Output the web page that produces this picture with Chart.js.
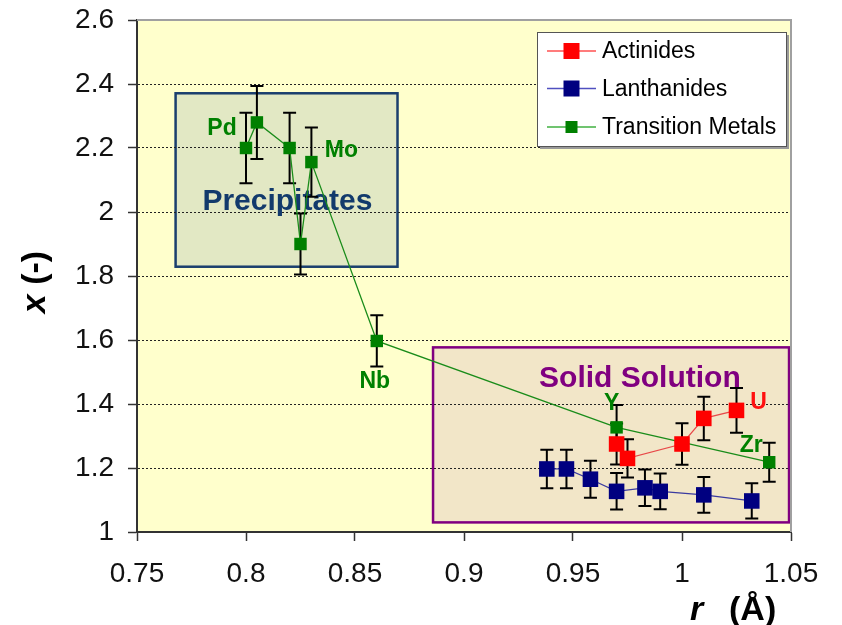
<!DOCTYPE html>
<html>
<head>
<meta charset="utf-8">
<title>x versus ionic radius</title>
<script src="https://cdn.jsdelivr.net/npm/chart.js@4.4.0/dist/chart.umd.min.js"></script>
<style>
  html, body { margin: 0; padding: 0; background: #fff; }
  #wrap { width: 842px; height: 625px; }
</style>
</head>
<body>
<div id="wrap"><canvas id="chart" width="842" height="625"></canvas></div>
<script>
// values: ionic radius r (Å) and x (-)
const actinideR = [0.97, 0.975, 1.00, 1.01, 1.025];
const actinideX = [1.275, 1.23, 1.275, 1.355, 1.38];
const actinideErr = [0.064, 0.06, 0.065, 0.068, 0.07];
const actinideNames = ['', '', '', '', 'U'];

const lanthanideR = [0.938, 0.947, 0.958, 0.97, 0.983, 0.99, 1.01, 1.032];
const lanthanideX = [1.197, 1.197, 1.165, 1.127, 1.138, 1.127, 1.116, 1.097];
const lanthanideErr = [0.06, 0.06, 0.058, 0.057, 0.057, 0.056, 0.056, 0.055];

const transitionR = [0.80, 0.805, 0.82, 0.825, 0.83, 0.86, 0.97, 1.04];
const transitionX = [2.20, 2.28, 2.20, 1.90, 2.156, 1.597, 1.327, 1.218];
const transitionErr = [0.11, 0.114, 0.11, 0.095, 0.108, 0.08, 0.07, 0.061];
const transitionNames = ['Pd', '', '', '', 'Mo', 'Nb', 'Y', 'Zr'];

const xTicks = [0.75, 0.8, 0.85, 0.9, 0.95, 1, 1.05];
const yTicks = [1, 1.2, 1.4, 1.6, 1.8, 2, 2.2, 2.4, 2.6];

const FONT = "'Liberation Sans', Arial, sans-serif";

const toPoints = (rs, xs) => rs.map((r, i) => ({x: r, y: xs[i]}));

// shaded regions, in data units
const regions = [
    {text: 'Precipitates', r0: 0.7677, r1: 0.8695, x0: 1.829, x1: 2.371,
     fill: '#e2e8c4', stroke: '#1b3f6e', color: '#123a6c', textR: 0.819, textX: 2.006},
    {text: 'Solid Solution', r0: 0.8858, r1: 1.0491, x0: 1.030, x1: 1.577,
     fill: '#f2e6c8', stroke: '#800080', color: '#800080', textR: 0.9807, textX: 1.454}
];

// pixel offsets of the element names from their points
const labelOffsets = {Pd: [-24, -19], Mo: [30, -11], Nb: [-2, 41], Y: [-5, -24], Zr: [-18, -17], U: [22, -8]};

const backdrop = {
    id: 'backdrop',
    beforeDraw(chart) {
        const {ctx, chartArea: a, scales: {x, y}} = chart;
        ctx.save();
        ctx.fillStyle = '#ffffcc';
        ctx.fillRect(a.left, a.top, a.right - a.left, a.bottom - a.top);
        regions.forEach(reg => {
            const l = x.getPixelForValue(reg.r0), r = x.getPixelForValue(reg.r1);
            const t = y.getPixelForValue(reg.x1), b = y.getPixelForValue(reg.x0);
            ctx.fillStyle = reg.fill;
            ctx.fillRect(l, t, r - l, b - t);
            ctx.lineWidth = 2.5;
            ctx.strokeStyle = reg.stroke;
            ctx.strokeRect(l, t, r - l, b - t);
        });
        ctx.restore();
    }
};

const errorBars = {
    id: 'errorBars',
    beforeDatasetsDraw(chart) {
        const {ctx, scales: {x, y}} = chart;
        ctx.save();
        // region captions sit under the data
        ctx.font = 'bold 30px ' + FONT;
        ctx.textAlign = 'center';
        ctx.textBaseline = 'alphabetic';
        regions.forEach(reg => {
            ctx.fillStyle = reg.color;
            ctx.fillText(reg.text, x.getPixelForValue(reg.textR), y.getPixelForValue(reg.textX));
        });
        ctx.strokeStyle = '#000';
        ctx.lineWidth = 2;
        chart.data.datasets.forEach(ds => {
            ds.data.forEach((p, i) => {
                const e = ds.errors[i];
                const cx = x.getPixelForValue(p.x);
                const top = y.getPixelForValue(p.y + e);
                const bot = y.getPixelForValue(p.y - e);
                ctx.beginPath();
                ctx.moveTo(cx, top);
                ctx.lineTo(cx, bot);
                ctx.moveTo(cx - 6.5, top);
                ctx.lineTo(cx + 6.5, top);
                ctx.moveTo(cx - 6.5, bot);
                ctx.lineTo(cx + 6.5, bot);
                ctx.stroke();
            });
        });
        ctx.restore();
    }
};

const overlay = {
    id: 'overlay',
    afterDraw(chart) {
        const {ctx, chartArea: a, scales: {x, y}} = chart;
        ctx.save();

        // top and right frame of the plot area
        ctx.strokeStyle = '#a0a0a0';
        ctx.lineWidth = 2;
        ctx.beginPath();
        ctx.moveTo(a.left, a.top);
        ctx.lineTo(a.right, a.top);
        ctx.lineTo(a.right, a.bottom);
        ctx.stroke();

        // element names
        ctx.font = 'bold 23px ' + FONT;
        ctx.textAlign = 'center';
        ctx.textBaseline = 'middle';
        chart.data.datasets.forEach(ds => {
            if (!ds.names) return;
            ctx.fillStyle = ds.labelColor;
            ds.data.forEach((p, i) => {
                const name = ds.names[i];
                if (!name) return;
                const off = labelOffsets[name];
                ctx.fillText(name, x.getPixelForValue(p.x) + off[0], y.getPixelForValue(p.y) + off[1]);
            });
        });

        // legend box
        const lx = 537, ly = 32, lw = 249, lh = 114;
        ctx.fillStyle = '#9a9a9a';
        ctx.fillRect(lx + 3, ly + 3, lw, lh);
        ctx.fillStyle = '#fff';
        ctx.fillRect(lx, ly, lw, lh);
        ctx.strokeStyle = '#555';
        ctx.lineWidth = 1;
        ctx.strokeRect(lx + 0.5, ly + 0.5, lw, lh);
        const rows = [51, 88.5, 127];
        ctx.font = '23px ' + FONT;
        ctx.textAlign = 'left';
        chart.data.datasets.forEach((ds, i) => {
            const ry = rows[i];
            ctx.strokeStyle = ds.legendLine;
            ctx.lineWidth = 1.5;
            ctx.beginPath();
            ctx.moveTo(547, ry);
            ctx.lineTo(596, ry);
            ctx.stroke();
            const s = ds.legendSize;
            ctx.fillStyle = ds.pointBackgroundColor;
            ctx.fillRect(571.5 - s / 2, ry - s / 2, s, s);
            ctx.fillStyle = '#000';
            ctx.fillText(ds.label, 602, ry + 1);
        });

        // axis titles, mixed italic / upright
        ctx.fillStyle = '#000';
        ctx.textBaseline = 'alphabetic';
        ctx.font = 'italic bold 34px ' + FONT;
        ctx.fillText('r', 690, 620);
        ctx.font = 'bold 34px ' + FONT;
        ctx.fillText('(Å)', 729, 620);

        ctx.translate(45, 282);
        ctx.rotate(-Math.PI / 2);
        ctx.font = 'italic bold 34px ' + FONT;
        const wx = ctx.measureText('x ').width;
        ctx.font = 'bold 34px ' + FONT;
        const wr = ctx.measureText('(-)').width;
        const start = -(wx + wr) / 2;
        ctx.font = 'italic bold 34px ' + FONT;
        ctx.fillText('x', start, 0);
        ctx.font = 'bold 34px ' + FONT;
        ctx.fillText('(-)', start + wx, 0);

        ctx.restore();
    }
};

new Chart(document.getElementById('chart'), {
    type: 'scatter',
    data: {
        datasets: [
            {
                label: 'Actinides',
                data: toPoints(actinideR, actinideX),
                errors: actinideErr,
                names: actinideNames,
                labelColor: '#ff1010',
                legendLine: '#ff5050',
                legendSize: 16,
                showLine: true,
                borderColor: '#e84848',
                borderWidth: 1.2,
                pointStyle: 'rect',
                pointRadius: 11,
                pointBackgroundColor: '#ff0000',
                pointBorderWidth: 0
            },
            {
                label: 'Lanthanides',
                data: toPoints(lanthanideR, lanthanideX),
                errors: lanthanideErr,
                legendLine: '#5050c0',
                legendSize: 16,
                showLine: true,
                borderColor: '#3a3aa0',
                borderWidth: 1.2,
                pointStyle: 'rect',
                pointRadius: 11,
                pointBackgroundColor: '#000080',
                pointBorderWidth: 0
            },
            {
                label: 'Transition Metals',
                data: toPoints(transitionR, transitionX),
                errors: transitionErr,
                names: transitionNames,
                labelColor: '#008000',
                legendLine: '#40b040',
                legendSize: 12,
                showLine: true,
                borderColor: '#1a8c1a',
                borderWidth: 1.3,
                pointStyle: 'rect',
                pointRadius: 8.8,
                pointBackgroundColor: '#008000',
                pointBorderWidth: 0
            }
        ]
    },
    options: {
        responsive: false,
        maintainAspectRatio: false,
        animation: false,
        events: [],
        layout: { padding: { top: 20, right: 51, bottom: 0, left: 0 } },
        plugins: {
            legend: { display: false },
            tooltip: { enabled: false }
        },
        scales: {
            x: {
                type: 'linear',
                min: 0.75,
                max: 1.05,
                afterBuildTicks: s => { s.ticks = xTicks.map(v => ({value: v})); },
                afterFit: s => { s.height = 93; s.paddingLeft = 0; s.paddingRight = 0; },
                ticks: {
                    font: { family: FONT, size: 28 },
                    color: '#111',
                    padding: 16,
                    maxRotation: 0,
                    autoSkip: false,
                    callback: v => String(v)
                },
                grid: {
                    drawOnChartArea: false,
                    tickLength: 9,
                    tickColor: '#333',
                    tickWidth: 1.5
                },
                border: { color: '#333', width: 2 }
            },
            y: {
                type: 'linear',
                min: 1,
                max: 2.6,
                afterBuildTicks: s => { s.ticks = yTicks.map(v => ({value: v})); },
                afterFit: s => { s.width = 137; s.paddingTop = 0; s.paddingBottom = 0; },
                ticks: {
                    font: { family: FONT, size: 28 },
                    color: '#111',
                    padding: 14,
                    autoSkip: false,
                    callback: v => String(v)
                },
                grid: {
                    color: c => (c.tick && (c.tick.value === 1 || c.tick.value === 2.6)) ? 'rgba(0,0,0,0)' : '#222',
                    lineWidth: 1,
                    tickLength: 9,
                    tickColor: '#333',
                    tickWidth: 1.5
                },
                border: { color: '#333', width: 2, dash: [2, 2] }
            }
        }
    },
    plugins: [backdrop, errorBars, overlay]
});
</script>
</body>
</html>
